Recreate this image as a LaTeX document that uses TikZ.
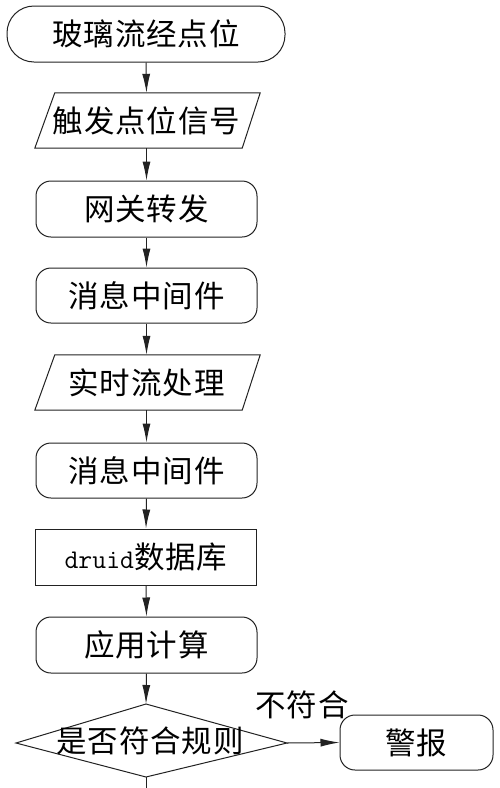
\documentclass[tikz,border=0pt]{standalone}
\usepackage{fontspec}
\newfontfamily\cjk[LetterSpace=3]{Noto Sans CJK SC}
\usetikzlibrary{arrows.meta}
\definecolor{linec}{HTML}{222222}
\begin{document}
\begin{tikzpicture}[x=1pt,y=-1pt,
  txt/.style={font=\cjk\fontsize{30.5}{32}\selectfont, text=black, inner sep=0pt},
  base/.style={txt, draw=linec, line width=1pt, minimum width=221pt, minimum height=55pt},
  rbox/.style={base, rounded corners=15pt},
  sbox/.style={base},
  pbox/.style={txt, minimum width=205pt, minimum height=55pt},
  arr/.style={draw=linec, line width=1pt, -{Latex[length=19pt,width=8pt]}},
  ln/.style={draw=linec, line width=1pt}]
\useasboundingbox (0,0) rectangle (500,788);
\fill[white] (0,0) rectangle (500,788);

\node[base, rounded corners=27pt, minimum width=278pt, minimum height=56pt] (b1) at (146,34) {玻璃流经点位};
\node[pbox] (b2) at (146.5,120.5) {触发点位信号};
\draw[ln] ([xshift=11pt]b2.north west) -- ([xshift=11pt]b2.north east) -- ([xshift=-7pt]b2.south east) -- ([xshift=-9pt]b2.south west) -- cycle;
\node[rbox, minimum height=56pt] (b3) at (146.5,209) {网关转发};
\node[rbox] (b4) at (146.5,295.5) {消息中间件};
\node[pbox] (b5) at (146.5,382.5) {实时流处理};
\draw[ln] ([xshift=11pt]b5.north west) -- ([xshift=11pt]b5.north east) -- ([xshift=-7pt]b5.south east) -- ([xshift=-9pt]b5.south west) -- cycle;
\node[rbox] (b6) at (146.5,470.5) {消息中间件};
\node[sbox, minimum height=56pt] (b7) at (146,557) {{\ttfamily\fontsize{27}{28}\selectfont druid}数据库};
\node[rbox, minimum height=56pt] (b8) at (146.5,645) {应用计算};

\coordinate (dt) at (146,704);
\coordinate (dl) at (16,743);
\coordinate (dr) at (287,743);
\coordinate (db) at (146,777);
\draw[ln] (dt) -- (dr) -- (db) -- (dl) -- cycle;
\node[txt] (d) at (150,741) {是否符合规则};

\node[rbox, minimum width=153pt] (alarm) at (416.5,742.5) {警报};
\node[txt] (lbl) at (302,705) {不符合};
\coordinate (bend) at (146,790);

\draw[arr] (b1.south) -- (b2.north);
\draw[arr] (b2.south) -- (b3.north);
\draw[arr] (b3.south) -- (b4.north);
\draw[arr] (b4.south) -- (b5.north);
\draw[arr] (b5.south) -- (b6.north);
\draw[arr] (b6.south) -- (b7.north);
\draw[arr] (b7.south) -- (b8.north);
\draw[arr] (b8.south) -- (dt);
\draw[arr] (dr) -- (alarm.west);
\draw[ln] (db) -- (bend);
\end{tikzpicture}
\end{document}
